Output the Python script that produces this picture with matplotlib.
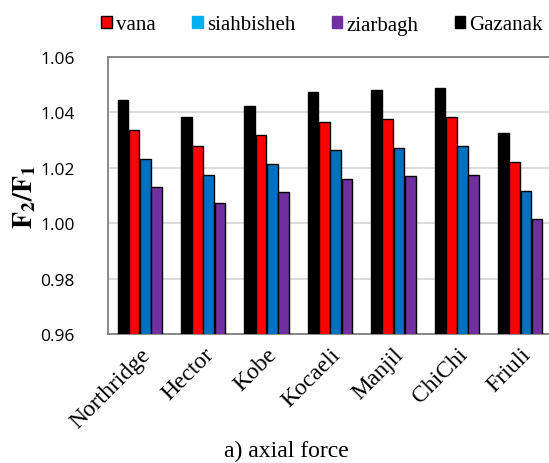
import numpy as np
import matplotlib
matplotlib.use('Agg')
import matplotlib.pyplot as plt
from matplotlib.patches import Patch

# Earthquake records and F2/F1 ratios (axial force) per station
records = ['Northridge', 'Hector', 'Kobe', 'Kocaeli', 'Manjil', 'ChiChi', 'Friuli']
gazanak = [1.0443, 1.0383, 1.0423, 1.0473, 1.0481, 1.0488, 1.0324]
vana = [1.0337, 1.0277, 1.0317, 1.0367, 1.0376, 1.0382, 1.0220]
siahbisheh = [1.0233, 1.0174, 1.0214, 1.0263, 1.0272, 1.0277, 1.0117]
ziarbagh = [1.0131, 1.0072, 1.0111, 1.0161, 1.0169, 1.0175, 1.0016]

plt.rcParams['mathtext.fontset'] = 'stix'

fig = plt.figure(figsize=(5.49, 4.64), dpi=100)
ax = fig.add_axes([108 / 549, 1 - 335 / 464, 444 / 549, 277 / 464])

x = np.arange(len(records))
pitch = 0.177
w = 0.168
series = [gazanak, vana, siahbisheh, ziarbagh]
colors = ['#000000', '#FF0000', '#0070C0', '#7030A0']
for k in range(4):
    ax.bar(x + (k - 1.5) * pitch, series[k], width=w, color=colors[k],
           edgecolor='black', linewidth=1.0, zorder=3)

ax.set_xlim(-0.5, len(records) - 0.5)
ax.set_ylim(0.96, 1.06)
ax.set_yticks([0.96, 0.98, 1.00, 1.02, 1.04, 1.06])
ax.set_yticklabels(['%.2f' % v for v in ax.get_yticks()], fontfamily='Open Sans', fontsize=12.5)
ax.grid(axis='y', color='#D9D9D9', linewidth=1.3, zorder=0)
ax.tick_params(axis='y', length=0, pad=24)
ax.tick_params(axis='x', length=0, pad=7)
ax.set_xticks(x)
ax.set_xticklabels(records, rotation=45, ha='right', va='top', rotation_mode='anchor',
                   fontfamily='Liberation Serif', fontsize=17)
for s in ax.spines.values():
    s.set_color('#808080')
    s.set_linewidth(1.3)

ax.set_ylabel(r'$\mathbf{F_2/F_1}$', fontsize=20)
ax.yaxis.set_label_coords(-0.158, 0.5)

handles = [Patch(facecolor='#FF0000', edgecolor='black', label='vana'),
           Patch(facecolor='#00B0F0', edgecolor='#00B0F0', label='siahbisheh'),
           Patch(facecolor='#7030A0', edgecolor='#7030A0', label='ziarbagh'),
           Patch(facecolor='#000000', edgecolor='black', label='Gazanak')]
fig.legend(handles=handles, loc='center', bbox_to_anchor=(322 / 549, 1 - 26 / 464), ncol=4,
           frameon=False, prop={'family': 'Liberation Serif', 'size': 15},
           handlelength=0.5, handleheight=0.5, handletextpad=0.2, columnspacing=1.75,
           borderpad=0)

fig.text(286 / 549, 1 - 451 / 464, 'a) axial force', ha='center', va='center',
         fontfamily='Liberation Serif', fontsize=17)

fig.savefig('out.png', dpi=100)
